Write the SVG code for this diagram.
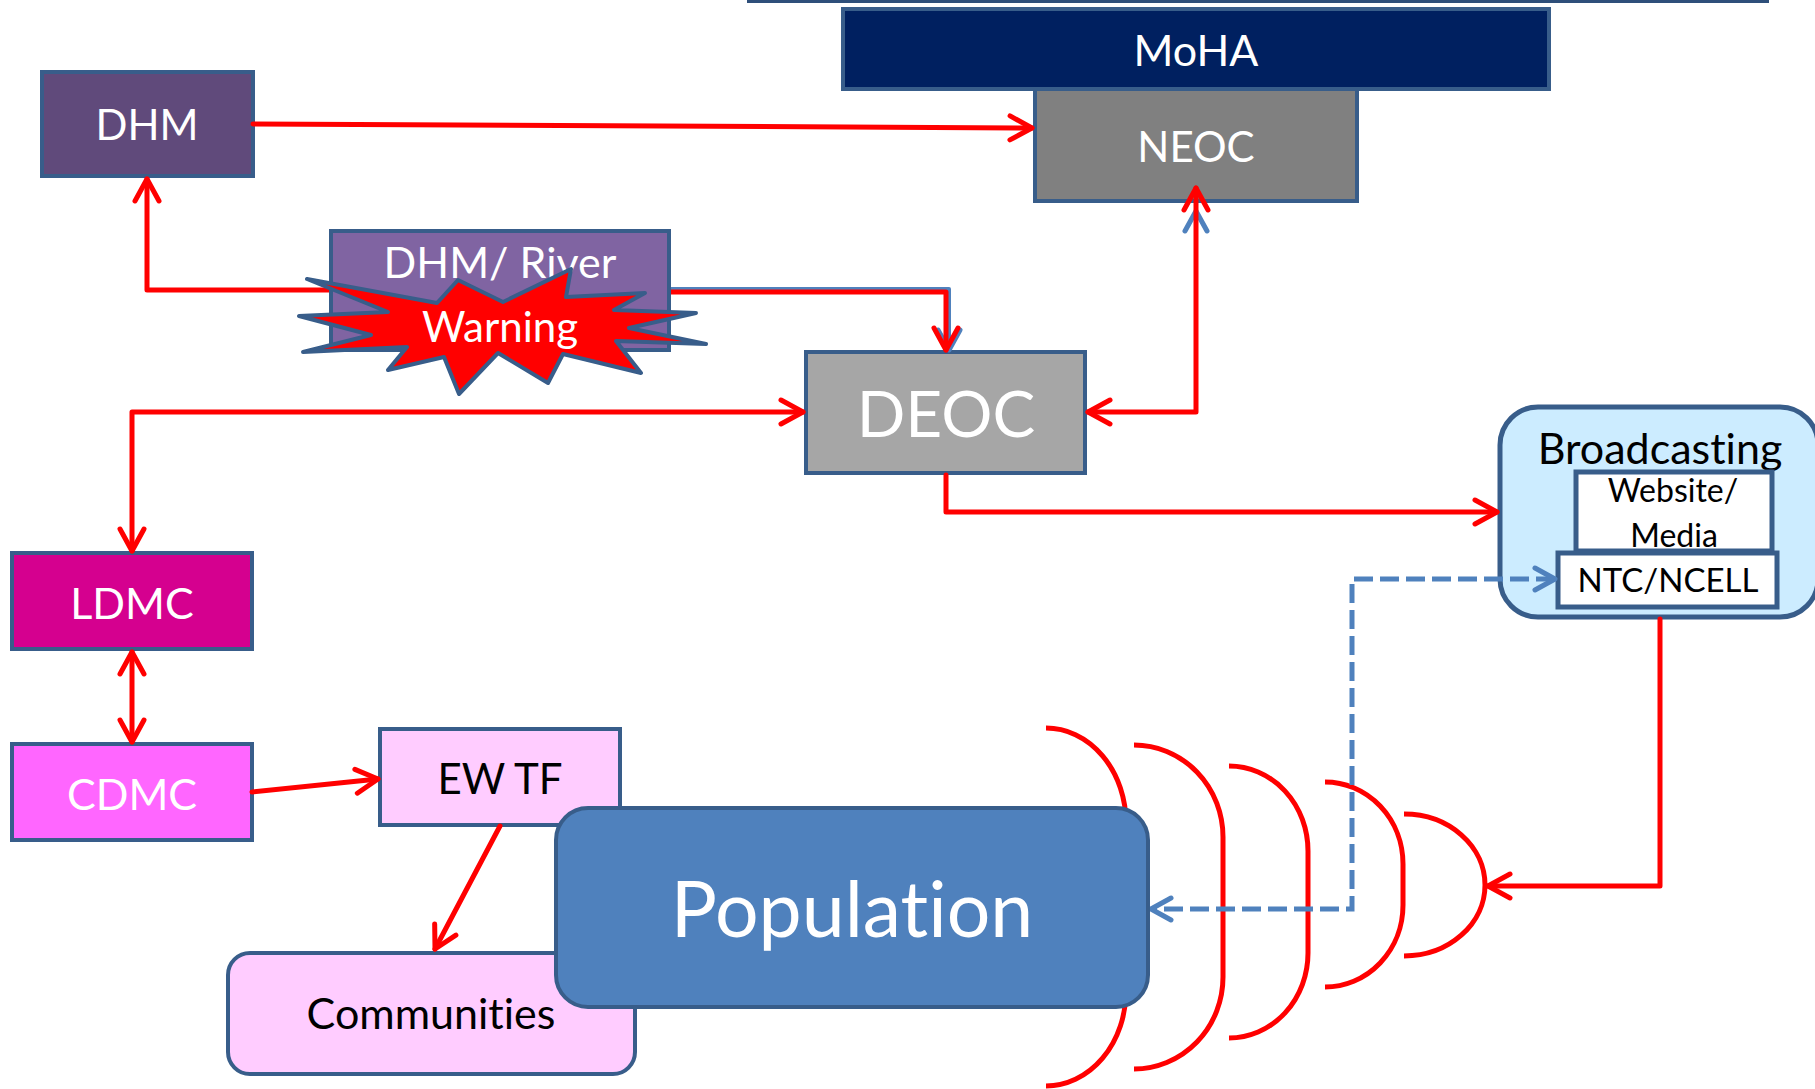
<svg xmlns="http://www.w3.org/2000/svg" width="1815" height="1089" viewBox="0 0 1815 1089">
<defs>
<style>
.box{stroke:#385D8A;stroke-width:4}
.t{font-family:Lato,"Open Sans","Liberation Sans",sans-serif;text-anchor:middle;font-variant-ligatures:none;font-feature-settings:"liga" 0,"clig" 0}
.w{fill:#ffffff}
.k{fill:#000000}
.red{fill:none;stroke:#FF0000;stroke-width:5;stroke-linejoin:round;stroke-linecap:round}
.blue{fill:none;stroke:#4F81BD;stroke-width:4;stroke-linejoin:round}
.dash{fill:none;stroke:#4F81BD;stroke-width:5;stroke-dasharray:19 7}
.wave{fill:none;stroke:#FF0000;stroke-width:5}
</style>
<marker id="ar" markerUnits="userSpaceOnUse" markerWidth="40" markerHeight="40" viewBox="-30 -20 40 40" refX="0" refY="0" orient="auto-start-reverse">
<path d="M-22,-12 L0,0 L-22,12" fill="none" stroke="#FF0000" stroke-width="5" stroke-linecap="round" stroke-linejoin="round"/>
</marker>
<marker id="ab" markerUnits="userSpaceOnUse" markerWidth="40" markerHeight="40" viewBox="-30 -20 40 40" refX="0" refY="0" orient="auto-start-reverse">
<path d="M-20,-11 L0,0 L-20,11" fill="none" stroke="#4F81BD" stroke-width="5" stroke-linecap="round" stroke-linejoin="round"/>
</marker>
</defs>
<rect x="0" y="0" width="1815" height="1089" fill="#ffffff"/>
<rect x="747" y="0" width="1022" height="3" fill="#2E4F7A"/>

<g id="MoHA"><rect class="box" x="843" y="9" width="706" height="80" fill="#002060"/><text class="t w" x="1196" y="66" font-size="43">MoHA</text></g>
<g id="NEOC"><rect class="box" x="1035" y="89" width="322" height="112" fill="#808080"/><text class="t w" x="1196" y="162" font-size="42">NEOC</text></g>
<g id="DHM"><rect class="box" x="42" y="72" width="211" height="104" fill="#604A7B"/><text class="t w" x="147" y="140" font-size="42">DHM</text></g>
<g id="DEOC"><rect class="box" x="806" y="352" width="279" height="121" fill="#A6A6A6"/><text class="t w" x="946" y="437" font-size="64">DEOC</text></g>
<g id="LDMC"><rect class="box" x="12" y="553" width="240" height="96" fill="#D5008F"/><text class="t w" x="132" y="619" font-size="43">LDMC</text></g>
<g id="CDMC"><rect class="box" x="12" y="744" width="240" height="96" fill="#FF66FF"/><text class="t w" x="132" y="810" font-size="43">CDMC</text></g>
<g id="EWTF"><rect class="box" x="380" y="729" width="240" height="96" fill="#FFCCFF"/><text class="t k" x="500" y="794" font-size="42">EW TF</text></g>
<g id="Communities"><rect class="box" x="228" y="953" width="407" height="121" rx="22" fill="#FFCCFF"/><text class="t k" x="431" y="1029" font-size="43">Communities</text></g>
<g id="Broadcasting">
<rect x="1500" y="407" width="318" height="210" rx="38" fill="#CCECFF" stroke="#385D8A" stroke-width="5"/>
<text class="t k" x="1660" y="464" font-size="43">Broadcasting</text>
</g>
<g id="WebsiteMedia"><rect x="1576" y="472" width="196" height="79" fill="#ffffff" stroke="#385D8A" stroke-width="5"/><text class="t k" x="1673" y="502" font-size="32">Website/</text><text class="t k" x="1674" y="547" font-size="32">Media</text></g>
<g id="NTCNCELL"><rect x="1558" y="553" width="219" height="54" fill="#ffffff" stroke="#385D8A" stroke-width="5"/><text class="t k" x="1668" y="592" font-size="33">NTC/NCELL</text></g>

<g id="waves">
<path class="wave" d="M1046,728 A80,95 0 0 1 1126,823 L1126,991 A80,95 0 0 1 1046,1086"/>
<path class="wave" d="M1134,745 A89,92 0 0 1 1223,837 L1223,977 A89,92 0 0 1 1134,1069"/>
<path class="wave" d="M1229,766 A79,85 0 0 1 1308,851 L1308,953 A79,85 0 0 1 1229,1038"/>
<path class="wave" d="M1325,782 A78,82 0 0 1 1403,864 L1403,905 A78,82 0 0 1 1325,987"/>
<path class="wave" d="M1404,814 A81,71 0 0 1 1404,956"/>
</g>

<g id="connectors">
<path class="blue" d="M669,289 L949,289 L949,350" marker-end="url(#ab)"/>
<path class="blue" d="M1196,412 L1196,211" marker-end="url(#ab)"/>
<path class="red" d="M253,124 L1032,128" marker-end="url(#ar)"/>
<path class="red" d="M331,290 L147,290 L147,179" marker-end="url(#ar)"/>
<path class="red" d="M669,292 L946,292 L946,350" marker-end="url(#ar)"/>
<path class="red" d="M1088,412 L1196,412 L1196,188" marker-start="url(#ar)" marker-end="url(#ar)"/>
<path class="red" d="M803,412 L132,412 L132,551" marker-start="url(#ar)" marker-end="url(#ar)"/>
<path class="red" d="M946,475 L946,512 L1497,512" marker-end="url(#ar)"/>
<path class="red" d="M132,652 L132,742" marker-start="url(#ar)" marker-end="url(#ar)"/>
<path class="red" d="M252,792 L378,779" marker-end="url(#ar)"/>
<path class="red" d="M500,826 L435,949" marker-end="url(#ar)"/>
<path class="red" d="M1660,619 L1660,886 L1488,886" marker-end="url(#ar)"/>
<path class="dash" d="M1555,579 L1352,579 L1352,909 L1151,909" marker-start="url(#ab)" marker-end="url(#ab)"/>
</g>

<g id="Population"><rect x="556" y="808" width="592" height="199" rx="32" fill="#4F81BD" stroke="#385D8A" stroke-width="4"/><text class="t w" x="852" y="937" font-size="77">Population</text></g>

<g id="DHMRiver"><rect class="box" x="331" y="231" width="338" height="119" fill="#8064A2"/><text class="t w" x="500" y="278" font-size="43">DHM/ River</text></g>
<g id="Warning">
<polygon points="307,279 437,303 458,280 503,302 571,269 566,297 645,293 614,310 696,313 629,328 706,344 616,341 641,373 563,354 548,383 498,353 459,394 444,357 388,370 407,347 303,352 371,335 299,316 388,312" fill="#FF0000" stroke="#385D8A" stroke-width="4" stroke-linejoin="round"/>
<text class="t w" x="500" y="342" font-size="42">Warning</text>
</g>
</svg>
